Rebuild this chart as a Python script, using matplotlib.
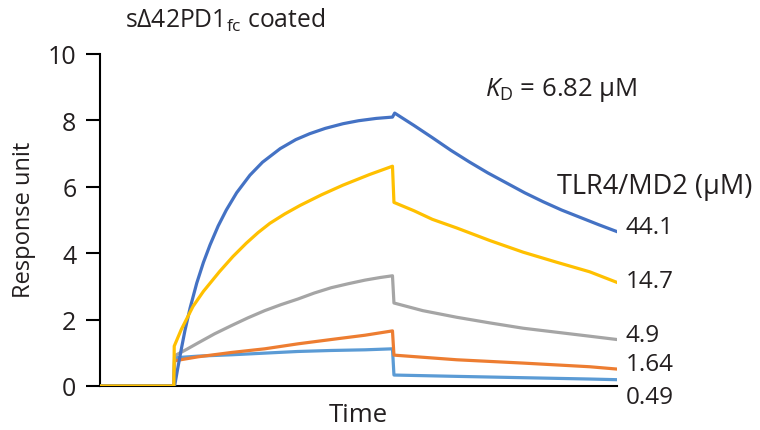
import matplotlib
matplotlib.use("Agg")
import matplotlib.pyplot as plt

FONT = "Open Sans"
plt.rcParams['font.family'] = [FONT, 'DejaVu Sans']
plt.rcParams['mathtext.fontset'] = 'custom'
plt.rcParams['mathtext.rm'] = FONT
plt.rcParams['mathtext.it'] = FONT + ':italic'

# ---- data (time in s, response units) ----
t_441 = [0, 100, 101, 105, 110, 115, 122, 131, 140, 149, 160, 171, 185, 203, 220, 244,
         265, 284, 305, 329, 350, 374, 396, 399, 425, 450, 475, 500, 525, 550, 575,
         600, 625, 650, 675, 700]
r_441 = [0, 0, 0, 0.5, 1.1, 1.67, 2.35, 3.1, 3.72, 4.25, 4.82, 5.3, 5.82, 6.35, 6.74, 7.15,
         7.42, 7.6, 7.76, 7.9, 7.99, 8.06, 8.1, 8.22, 7.85, 7.48, 7.1, 6.75, 6.42, 6.12, 5.82,
         5.55, 5.3, 5.08, 4.86, 4.65]

t_147 = [0, 100, 100.5, 110, 126, 140, 162, 180, 198, 214, 230, 250, 271, 300, 329, 365,
         396, 398, 425, 450, 483, 528, 573, 618, 663, 700]
r_147 = [0, 0, 1.2, 1.7, 2.4, 2.85, 3.45, 3.9, 4.3, 4.62, 4.9, 5.18, 5.44, 5.76, 6.05, 6.37,
         6.62, 5.53, 5.28, 5.02, 4.76, 4.38, 4.03, 3.73, 3.44, 3.12]

t_49 = [0, 100, 101, 117, 133, 155, 178, 200, 223, 245, 268, 290, 313, 336, 359, 380,
        396, 398, 437, 483, 528, 573, 618, 663, 700]
r_49 = [0, 0, 0.91, 1.1, 1.3, 1.57, 1.82, 2.05, 2.27, 2.45, 2.62, 2.8, 2.96, 3.08, 3.19,
        3.27, 3.32, 2.5, 2.27, 2.07, 1.9, 1.74, 1.62, 1.5, 1.4]

t_164 = [0, 100, 101, 133, 178, 223, 268, 313, 359, 396, 398, 483, 573, 663, 700]
r_164 = [0, 0, 0.76, 0.88, 1.01, 1.12, 1.27, 1.4, 1.53, 1.66, 0.93, 0.79, 0.69, 0.58, 0.51]

t_049 = [0, 100, 101, 133, 178, 268, 313, 359, 396, 398, 483, 573, 663, 700]
r_049 = [0, 0, 0.85, 0.9, 0.94, 1.04, 1.07, 1.09, 1.12, 0.33, 0.29, 0.25, 0.21, 0.19]

conc_labels = ["44.1", "14.7", "4.9", "1.64", "0.49"]
y_ticks = [0, 2, 4, 6, 8, 10]

TXT = "#231f20"
fig = plt.figure(figsize=(7.6, 4.31), dpi=100)
ax = fig.add_axes([100/760, 1-387/431, 517/760, 332/431])

lw = 2.3
ax.plot(t_049, r_049, color="#5B9BD5", lw=lw, zorder=2)
ax.plot(t_164, r_164, color="#ED7D31", lw=lw, zorder=3)
ax.plot(t_49, r_49, color="#A5A5A5", lw=lw, zorder=4)
ax.plot(t_441, r_441, color="#4472C4", lw=lw, zorder=5)
ax.plot(t_147, r_147, color="#FFC000", lw=lw, zorder=6)

ax.set_xlim(0, 700)
ax.set_ylim(0, 10)
ax.set_yticks(y_ticks)
ax.set_yticklabels([str(v) for v in y_ticks])
ax.set_xticks([])
for s in ["top", "right"]:
    ax.spines[s].set_visible(False)
for s in ["left", "bottom"]:
    ax.spines[s].set_linewidth(1.5)
    ax.spines[s].set_color("black")
    ax.spines[s].set_zorder(1)
ax.tick_params(axis="y", length=10, width=1.5, pad=7, labelsize=18, labelcolor=TXT)
ax.patch.set_visible(False)

def fx(px):
    return px / 760
def fy(py):
    return 1 - py / 431

fig.text(fx(24), fy(220), "Response unit", rotation=90, ha="center", va="center", fontsize=17, color=TXT)
fig.text(fx(358), fy(416), "Time", ha="center", va="center", fontsize=18.5, color=TXT)
fig.text(fx(125), fy(20), r"s$\Delta$42PD1$_{\mathrm{fc}}$ coated", ha="left", va="center", fontsize=17.7, color=TXT)
fig.text(fx(485), fy(90), r"$K_{\mathrm{D}}$ = 6.82 μM", ha="left", va="center", fontsize=18.5, color=TXT)
fig.text(fx(557), fy(187), "TLR4/MD2 (μM)", ha="left", va="center", fontsize=19.5, color=TXT)
label_y = [228, 282, 336, 365, 398]
for lab, py in zip(conc_labels, label_y):
    fig.text(fx(626), fy(py), lab, ha="left", va="center", fontsize=17.5, color=TXT)

fig.savefig("out.png", dpi=100)
